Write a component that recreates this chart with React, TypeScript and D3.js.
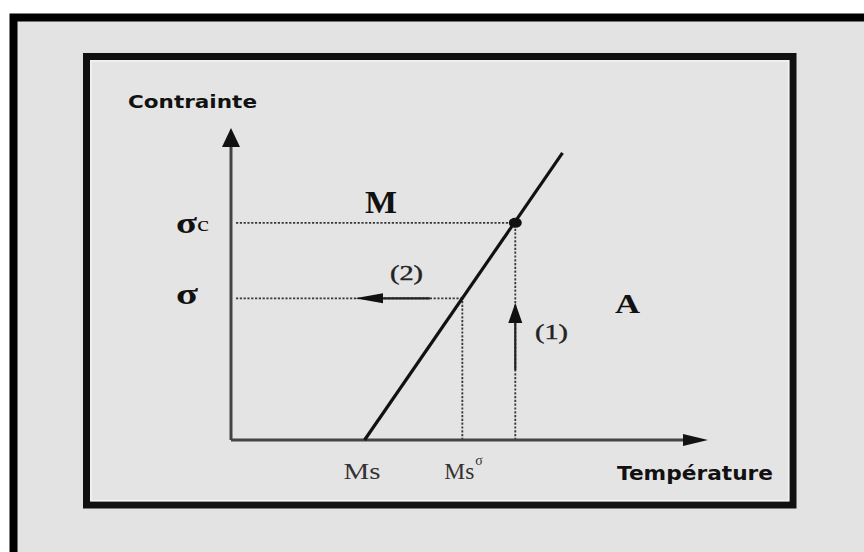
import React from "react";
import * as d3 from "d3";

// Clausius–Clapeyron style diagram: stress vs. temperature for martensite (M) / austenite (A)
const W = 864;
const H = 552;

// Axis domains (arbitrary units)
const tempDomain = [0, 100];
const stressDomain = [0, 100];

// Transformation line sigma = k (T - Ms)
const lineTemps = [28, 69.5];
const lineStress = [0, 92];

// Characteristic temperatures on the T axis
const tempTickNames = ["Ms", "Msσ"];
const tempTickValues = [28, 48.5];

// Stress levels on the stress axis
const stressLevelNames = ["σ", "σ"];
const stressLevelSuffix = ["c", ""];
const stressLevelValues = [69.6, 45.4];

// Loading path (1): isothermal loading at T1
const path1Temp = 59.6;
const path1Stress = [22.4, 43.9];

// Cooling path (2): under constant stress sigma
const path2Temps = [41.7, 26];
const path2Stress = 45.4;

export default function App() {
  const x = d3.scaleLinear().domain(tempDomain).range([231, 708]);
  const y = d3.scaleLinear().domain(stressDomain).range([440, 128]);

  const line = d3
    .line<[number, number]>()
    .x((d) => x(d[0]))
    .y((d) => y(d[1]));

  const x0 = x(0);
  const y0 = y(0);

  const dotted = { stroke: "#383838", strokeWidth: 1.8, strokeDasharray: "2.2 1.6", fill: "none" };

  const msX = x(tempTickValues[0]);
  const msSigX = x(tempTickValues[1]);
  const sigCY = y(stressLevelValues[0]);
  const sigY = y(stressLevelValues[1]);
  const p1X = x(path1Temp);
  const p1From = y(path1Stress[0]);
  const p1To = y(path1Stress[1]);
  const p2From = x(path2Temps[0]);
  const p2To = x(path2Temps[1]);
  const p2Y = y(path2Stress);

  const serif = "'Liberation Serif', 'Times New Roman', serif";
  const sans = "'DejaVu Sans', Verdana, sans-serif";

  return (
    <svg
      width={W}
      height={H}
      style={{ position: "absolute", left: 0, top: 0, background: "#ffffff" }}
    >
      {/* outer frame */}
      <rect x={13.5} y={17.5} width={900} height={600} fill="#e3e3e3" stroke="#000" strokeWidth={8} />
      {/* inner frame */}
      <rect x={86.5} y={56.5} width={706.5} height={448.5} fill="#e4e4e4" stroke="#111" strokeWidth={7} />
      <rect x={91} y={61} width={697.5} height={439.5} fill="none" stroke="#f2f2f2" strokeWidth={1.5} />

      {/* guide lines */}
      <line x1={x0 + 5} x2={p1X} y1={sigCY} y2={sigCY} style={dotted} />
      <line x1={x0 + 5} x2={msSigX} y1={sigY} y2={sigY} style={dotted} />
      <line x1={msSigX} x2={msSigX} y1={y0} y2={sigY} style={dotted} />
      <line x1={p1X} x2={p1X} y1={y0} y2={sigCY} style={dotted} />

      {/* axes */}
      <line x1={x0} x2={x0} y1={y0} y2={y(100) + 15} stroke="#444" strokeWidth={3} />
      <path d={`M${x0},${y(100)} L${x0 - 9},${y(100) + 19} L${x0 + 9},${y(100) + 19} Z`} fill="#111" />
      <line x1={x0} x2={x(100) - 20} y1={y0} y2={y0} stroke="#444" strokeWidth={3} />
      <path d={`M${x(100)},${y0} L${x(100) - 25},${y0 - 6} L${x(100) - 25},${y0 + 6} Z`} fill="#111" />

      {/* transformation line */}
      <path
        d={line([
          [lineTemps[0], lineStress[0]],
          [lineTemps[1], lineStress[1]],
        ]) as string}
        stroke="#111"
        strokeWidth={3.2}
        fill="none"
      />
      <ellipse cx={p1X} cy={sigCY} rx={6.5} ry={5} fill="#111" />

      {/* path (1) */}
      <line x1={p1X} x2={p1X} y1={p1From} y2={p1To + 16} stroke="#222" strokeWidth={2.2} />
      <path d={`M${p1X},${p1To} L${p1X - 7},${p1To + 20} L${p1X + 7},${p1To + 20} Z`} fill="#111" />

      {/* path (2) */}
      <line x1={p2From} x2={p2To + 24} y1={p2Y} y2={p2Y} stroke="#222" strokeWidth={2.2} />
      <path d={`M${p2To},${p2Y} L${p2To + 28},${p2Y - 5} L${p2To + 28},${p2Y + 5} Z`} fill="#111" />

      {/* axis titles */}
      <text x={128} y={108} fontFamily={sans} fontWeight="bold" fontSize={18} fill="#111"
        textLength={129} lengthAdjust="spacingAndGlyphs">Contrainte</text>
      <text x={617} y={480} fontFamily={sans} fontWeight="bold" fontSize={19} fill="#111"
        textLength={156} lengthAdjust="spacingAndGlyphs">Température</text>

      {/* stress level labels */}
      <text x={176} y={233} fontFamily={serif} fontWeight="bold" fontSize={30} fill="#111"
        textLength={21} lengthAdjust="spacingAndGlyphs">{stressLevelNames[0]}</text>
      <text x={197} y={231} fontFamily={serif} fontSize={21} fill="#111"
        textLength={12} lengthAdjust="spacingAndGlyphs">{stressLevelSuffix[0]}</text>
      <text x={176} y={304} fontFamily={serif} fontWeight="bold" fontSize={30} fill="#111"
        textLength={22} lengthAdjust="spacingAndGlyphs">{stressLevelNames[1]}</text>

      {/* temperature labels */}
      <text x={msX - 21} y={479} fontFamily={serif} fontSize={24} fill="#333"
        textLength={37} lengthAdjust="spacingAndGlyphs">{tempTickNames[0]}</text>
      <text x={msSigX - 18} y={479} fontFamily={serif} fontSize={24} fill="#333"
        textLength={30} lengthAdjust="spacingAndGlyphs">{tempTickNames[1].slice(0, 2)}</text>
      <text x={msSigX + 13} y={465} fontFamily={serif} fontSize={14} fill="#333">
        {tempTickNames[1].slice(2)}
      </text>

      {/* phase labels */}
      <text x={365} y={213} fontFamily={serif} fontWeight="bold" fontSize={31} fill="#111"
        textLength={32} lengthAdjust="spacingAndGlyphs">M</text>
      <text x={615} y={313} fontFamily={serif} fontWeight="bold" fontSize={28} fill="#111"
        textLength={25} lengthAdjust="spacingAndGlyphs">A</text>

      {/* path labels */}
      <text x={390} y={280} fontFamily={serif} fontSize={21} fill="#222" stroke="#222" strokeWidth={0.4}
        textLength={33} lengthAdjust="spacingAndGlyphs">(2)</text>
      <text x={535} y={339} fontFamily={serif} fontSize={21} fill="#222" stroke="#222" strokeWidth={0.4}
        textLength={33} lengthAdjust="spacingAndGlyphs">(1)</text>
    </svg>
  );
}
